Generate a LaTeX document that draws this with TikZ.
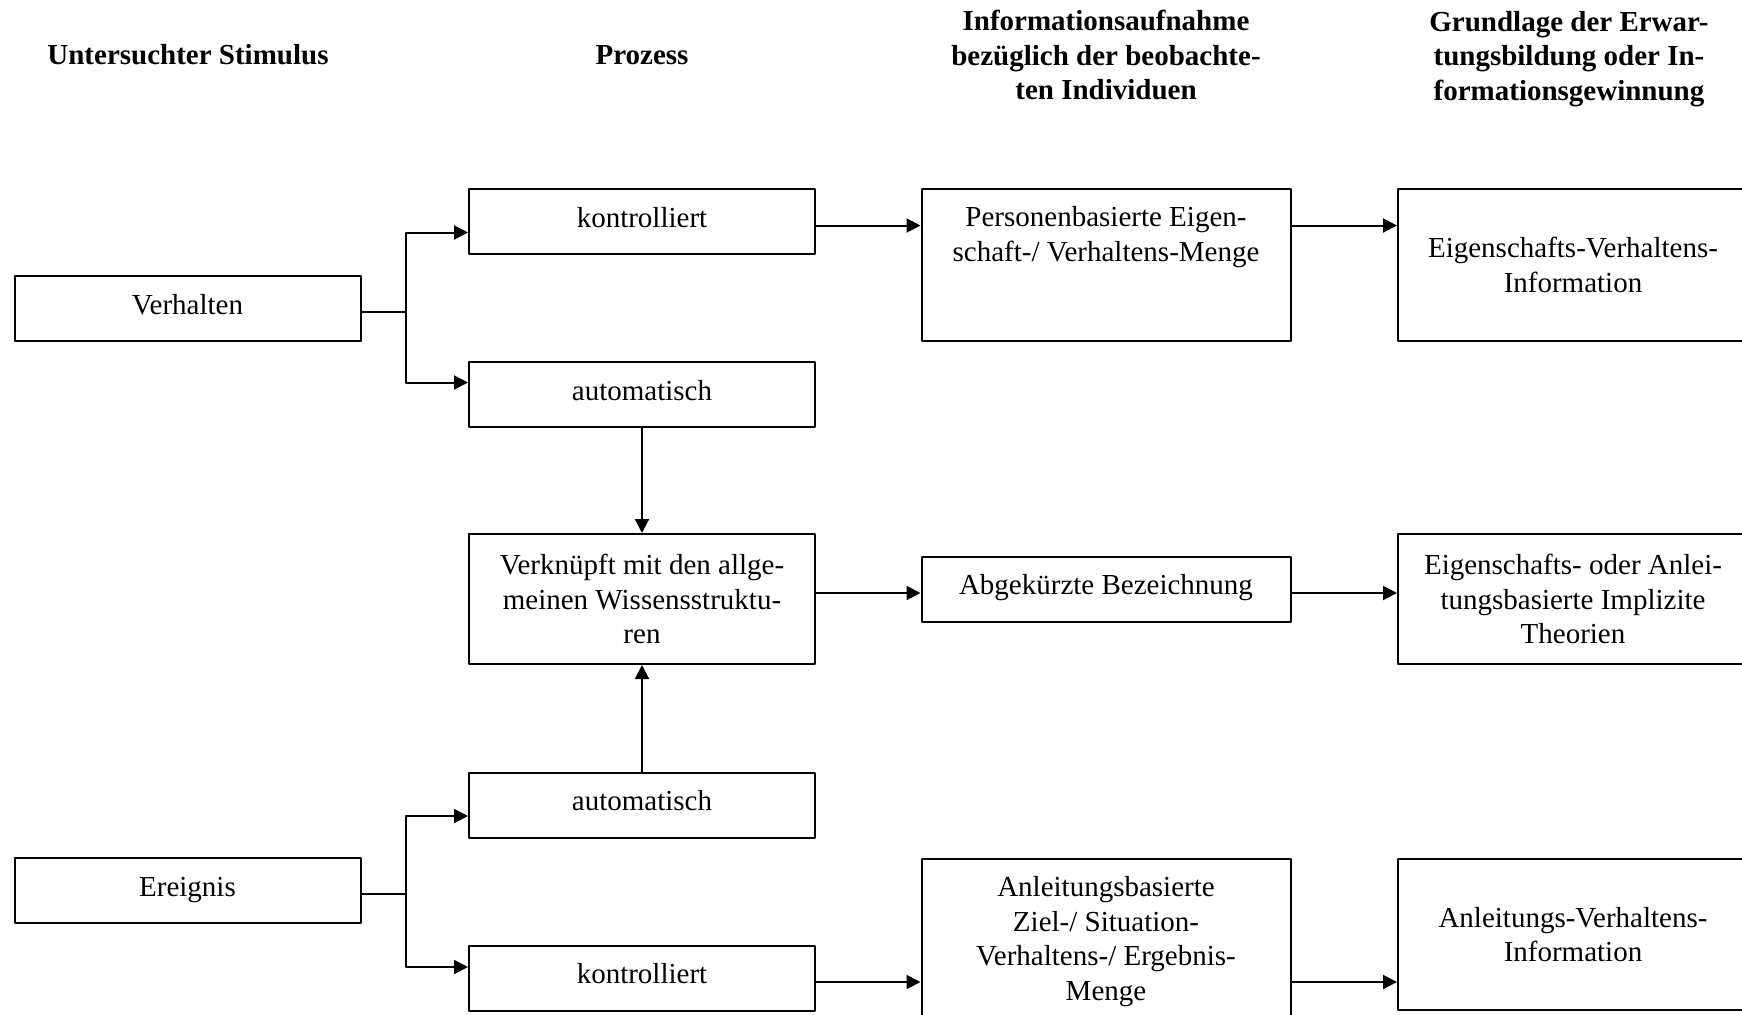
\documentclass[tikz,border=0pt]{standalone}
\usepackage{fontspec}
\setmainfont{Liberation Serif}
\usetikzlibrary{arrows.meta,calc}
\begin{document}
\begin{tikzpicture}[x=0.5pt, y=-0.5pt, line join=round, >={Triangle[length=7pt,width=7pt]},
	font=\fontsize{14.5}{17.3}\selectfont,
	box/.style={draw, line width=1pt, inner sep=0pt, align=center, minimum width=173pt, minimum height=32.5pt},
	zeile/.style={text height=10pt, text depth=4.5pt},
	oben/.style={anchor=north, align=center, inner sep=0pt, yshift=-9pt},
	kopf/.style={align=center, font=\fontsize{14.5}{17.3}\selectfont\bfseries},
	pfeil/.style={->, line width=1pt}]
	\useasboundingbox (0,0) rectangle (1742,1014);
	\clip (0,0) rectangle (1742,1014);
	% Kopfzeile
	\node[kopf] (h1) at (188,55) {Untersuchter Stimulus};
	\node[kopf] (h2) at (642,55) {Prozess};
	\node[kopf] (h3) at (1106,55) {Informationsaufnahme\\bezüglich der beobachte-\\ten Individuen};
	\node[kopf] (h4) at (1569,59) {Grundlage der Erwar-\\tungsbildung oder In-\\formationsgewinnung};
	% Stimulus
	\node[box, zeile] (verh) at (187.5,308.5) {Verhalten};
	\node[box, zeile] (erei) at (187.5,890.5) {Ereignis};
	% Prozess
	\node[box, zeile] (kon1) at (642,221.5) {kontrolliert};
	\node[box, zeile] (aut1) at (642,394.5) {automatisch};
	\node[box, minimum height=65pt] (verk) at (642,599) {Verknüpft mit den allge-\\meinen Wissensstruktu-\\ren};
	\node[box, zeile] (aut2) at (642,805) {automatisch};
	\node[box, zeile] (kon2) at (642,978) {kontrolliert};
	% Informationsaufnahme
	\node[box, minimum width=184.5pt, minimum height=76pt, label={[oben]north:{Personenbasierte Eigen-\\schaft-/ Verhaltens-Menge}}] (pers) at (1106,265) {};
	\node[box, zeile, minimum width=184.5pt] (abg) at (1106,589) {Abgekürzte Bezeichnung};
	\node[box, minimum width=184.5pt, minimum height=90pt, label={[oben]north:{Anleitungsbasierte\\Ziel-/ Situation-\\Verhaltens-/ Ergebnis-\\Menge}}] (anl) at (1106,949) {};
	% Grundlage
	\node[box, minimum width=175pt, minimum height=76pt] (eig) at (1573,265) {Eigenschafts-Verhaltens-\\Information};
	\node[box, minimum width=175pt, minimum height=65pt] (theo) at (1573,599) {Eigenschafts- oder Anlei-\\tungsbasierte Implizite\\Theorien};
	\node[box, minimum width=175pt, minimum height=75.5pt] (anv) at (1573,934.5) {Anleitungs-Verhaltens-\\Information};
	% Pfeile
	\draw[pfeil] ($(verh.east)+(0,3.5)$) -- ++(44,0) coordinate (j1) |- ($(kon1.west)+(0,11)$);
	\draw[pfeil] (j1) |- ($(aut1.west)+(0,-12)$);
	\draw[pfeil] ($(erei.east)+(0,3.5)$) -- ++(44,0) coordinate (j2) |- ($(aut2.west)+(0,11)$);
	\draw[pfeil] (j2) |- ($(kon2.west)+(0,-11)$);
	\draw[pfeil] (aut1.south) -- (verk.north);
	\draw[pfeil] (aut2.north) -- (verk.south);
	\draw[pfeil] ($(kon1.east)+(0,4)$) coordinate (p1) -- (p1 -| pers.west);
	\draw[pfeil] (p1 -| pers.east) -- (p1 -| eig.west);
	\coordinate (p2) at ($(abg.west)+(0,4)$);
	\draw[pfeil] (p2 -| verk.east) -- (p2);
	\draw[pfeil] (p2 -| abg.east) -- (p2 -| theo.west);
	\draw[pfeil] ($(kon2.east)+(0,4)$) coordinate (p3) -- (p3 -| anl.west);
	\draw[pfeil] (p3 -| anl.east) -- (p3 -| anv.west);
\end{tikzpicture}
\end{document}
